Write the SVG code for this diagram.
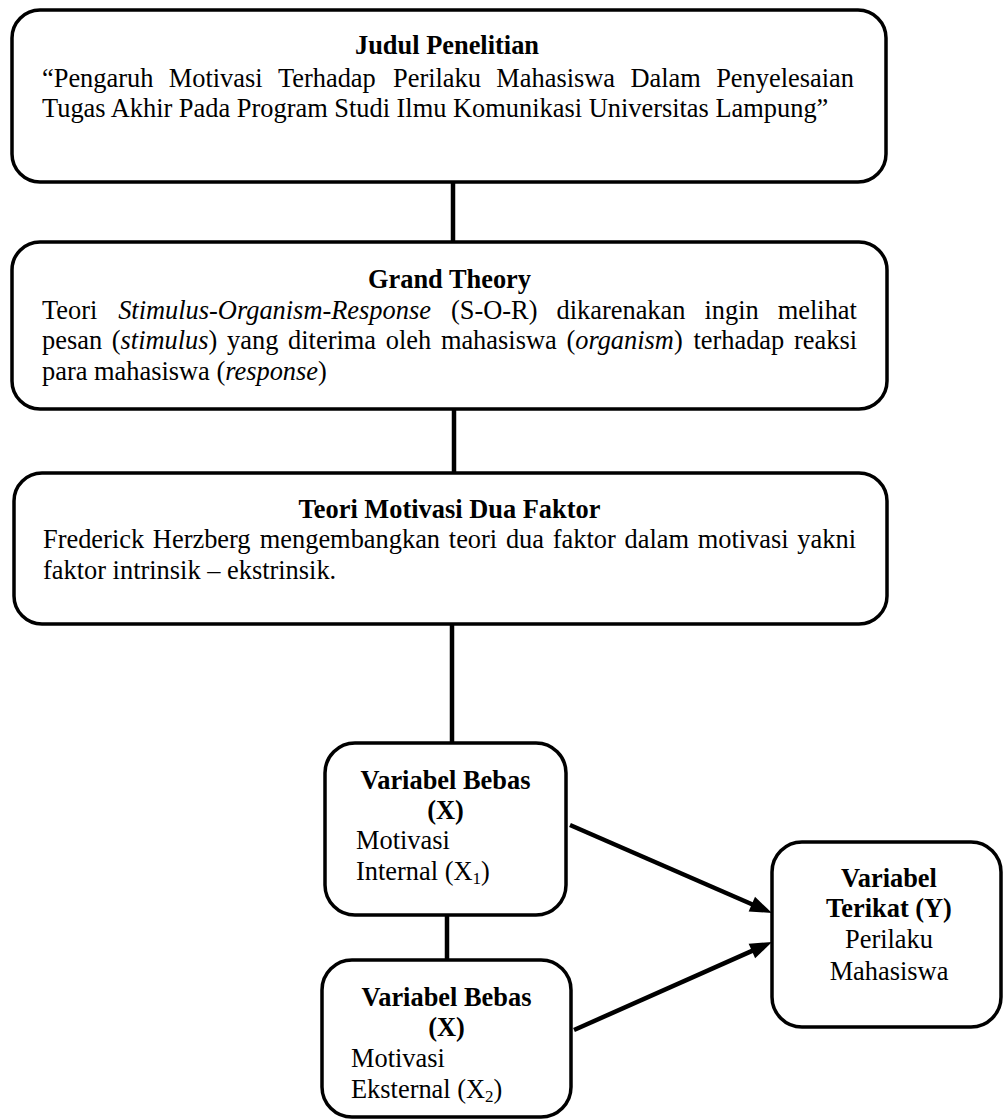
<svg xmlns="http://www.w3.org/2000/svg" width="1004" height="1120" viewBox="0 0 1004 1120">
  <style>
    .box { fill: #ffffff; stroke: #000000; stroke-width: 3.5; }
    .t { font-family: "Liberation Serif", "Times New Roman", serif; font-size: 26.4px; fill: #000000; }
    .b { font-weight: bold; }
    .i { font-style: italic; }
    .c { text-anchor: middle; }
    .link { stroke: #000000; stroke-width: 4.5; fill: none; }
    .arrow { stroke: #000000; stroke-width: 4.5; fill: none; marker-end: url(#ah); }
    .sub { font-size: 17px; }
  </style>
  <defs>
    <marker id="ah" markerUnits="userSpaceOnUse" markerWidth="22" markerHeight="16" refX="7" refY="8" orient="auto" overflow="visible">
      <path d="M0,0 L22,8 L0,16 z" fill="#000000"/>
    </marker>
  </defs>
  <rect width="1004" height="1120" fill="#ffffff"/>

  <g id="connectors">
    <line class="link" x1="453" y1="182" x2="453" y2="242"/>
    <line class="link" x1="454" y1="409" x2="454" y2="473"/>
    <line class="link" x1="452" y1="624" x2="452" y2="743"/>
    <line class="link" x1="447" y1="915" x2="447" y2="960"/>
    <line class="arrow" x1="570" y1="825" x2="758.25" y2="907"/>
    <line class="arrow" x1="574" y1="1030" x2="758.3" y2="948.1"/>
  </g>

  <g id="judul">
    <rect class="box" x="12" y="10" width="874" height="172" rx="28" ry="28"/>
    <text class="t b c" x="447" y="54">Judul Penelitian</text>
    <text class="t" y="87"><tspan x="42">“Pengaruh</tspan><tspan x="168.77">Motivasi</tspan><tspan x="277.99">Terhadap</tspan><tspan x="393.02">Perilaku</tspan><tspan x="496.35">Mahasiswa</tspan><tspan x="630.46">Dalam</tspan><tspan x="716.18">Penyelesaian</tspan></text>
    <text class="t" x="42" y="117">Tugas Akhir Pada Program Studi Ilmu Komunikasi Universitas Lampung”</text>
  </g>

  <g id="grand-theory">
    <rect class="box" x="12" y="242" width="875" height="167" rx="28" ry="28"/>
    <text class="t b c" x="449.5" y="288">Grand Theory</text>
    <text class="t" y="318.5"><tspan x="42">Teori</tspan><tspan x="118.17" class="i">Stimulus-Organism-Response</tspan><tspan x="451">(S-O-R)</tspan><tspan x="556.5">dikarenakan</tspan><tspan x="704.51">ingin</tspan><tspan x="777.78">melihat</tspan></text>
    <text class="t" y="349"><tspan x="42">pesan</tspan><tspan x="111.79">(</tspan><tspan class="i">stimulus</tspan><tspan>)</tspan><tspan x="227.07">yang</tspan><tspan x="288.07">diterima</tspan><tspan x="385.74">oleh</tspan><tspan x="440.88">mahasiswa</tspan><tspan x="566.4">(</tspan><tspan class="i">organism</tspan><tspan>)</tspan><tspan x="693.4">terhadap</tspan><tspan x="793.98">reaksi</tspan></text>
    <text class="t" x="42" y="380">para mahasiswa (<tspan class="i">response</tspan>)</text>
  </g>

  <g id="teori-motivasi">
    <rect class="box" x="14" y="473" width="873" height="151" rx="28" ry="28"/>
    <text class="t b c" x="449.5" y="518">Teori Motivasi Dua Faktor</text>
    <text class="t" y="548.3"><tspan x="43">Frederick</tspan><tspan x="152.86">Herzberg</tspan><tspan x="259.77">mengembangkan</tspan><tspan x="448.83">teori</tspan><tspan x="505.92">dua</tspan><tspan x="552.74">faktor</tspan><tspan x="624.48">dalam</tspan><tspan x="697.7">motivasi</tspan><tspan x="797.35">yakni</tspan></text>
    <text class="t" x="43" y="579.3">faktor intrinsik – ekstrinsik.</text>
  </g>

  <g id="variabel-x1">
    <rect class="box" x="325" y="743" width="241" height="172" rx="30" ry="30"/>
    <text class="t b c" x="445.5" y="789">Variabel Bebas</text>
    <text class="t b c" x="445.5" y="819">(X)</text>
    <text class="t" x="356" y="849">Motivasi</text>
    <text class="t" x="356" y="880">Internal (X<tspan class="sub" dy="4">1</tspan><tspan dy="-4">)</tspan></text>
  </g>

  <g id="variabel-x2">
    <rect class="box" x="322" y="960" width="249" height="157" rx="30" ry="30"/>
    <text class="t b c" x="446.5" y="1005.5">Variabel Bebas</text>
    <text class="t b c" x="446.5" y="1036">(X)</text>
    <text class="t" x="351" y="1066.5">Motivasi</text>
    <text class="t" x="351" y="1097.5">Eksternal (X<tspan class="sub" dy="4">2</tspan><tspan dy="-4">)</tspan></text>
  </g>

  <g id="variabel-y">
    <rect class="box" x="772" y="842" width="229" height="185" rx="30" ry="30"/>
    <text class="t b c" x="889" y="887">Variabel</text>
    <text class="t b c" x="889" y="917">Terikat (Y)</text>
    <text class="t c" x="889" y="948">Perilaku</text>
    <text class="t c" x="889" y="980">Mahasiswa</text>
  </g>
</svg>
